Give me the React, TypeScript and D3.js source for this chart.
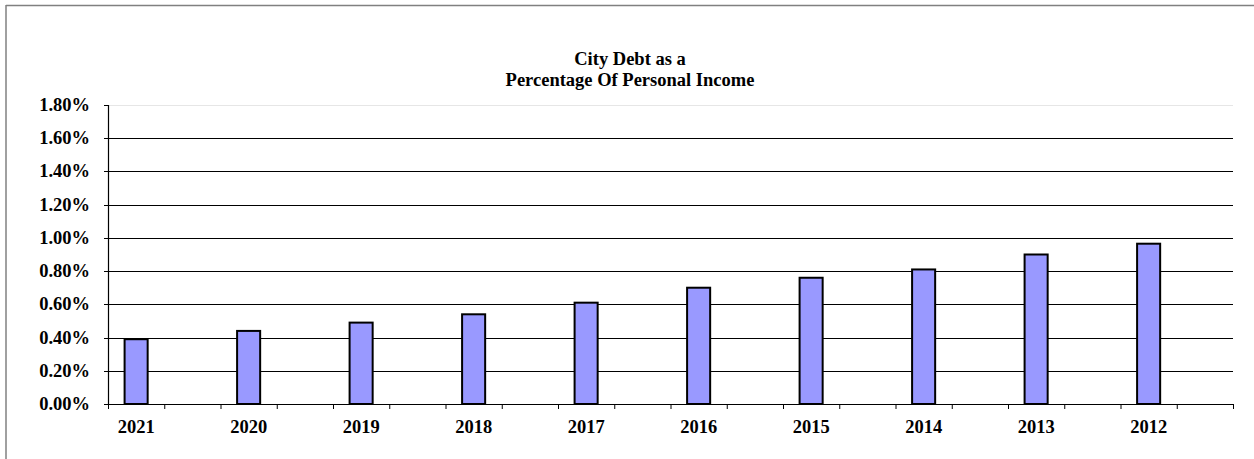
import React from "react";
import * as d3 from "d3";

const years = ["2021", "2020", "2019", "2018", "2017", "2016", "2015", "2014", "2013", "2012"];
const debtPct = [0.39, 0.44, 0.49, 0.54, 0.61, 0.70, 0.76, 0.81, 0.90, 0.965];
const yTicks = [0, 0.2, 0.4, 0.6, 0.8, 1.0, 1.2, 1.4, 1.6, 1.8];
const titleLines = ["City Debt as a", "Percentage Of Personal Income"];

const W = 1254;
const H = 459;
const plot = { left: 108, right: 1233, top: 105, bottom: 404 };
const font = "'Liberation Serif', 'Times New Roman', serif";

export default function App() {
  // each year occupies a slot followed by an empty slot
  const slots = years.flatMap((y) => [y, y + "_gap"]);
  const x = d3.scaleBand<string>().domain(slots).range([plot.left, plot.right]).paddingInner(0).paddingOuter(0);
  const y = d3.scaleLinear().domain([0, 1.8]).range([plot.bottom, plot.top]);
  const bw = x.bandwidth();
  const barW = bw * 0.41;

  const tickXs = slots.map((s) => x(s) as number).concat([plot.right]);

  return (
    <div style={{ position: "absolute", left: 0, top: 0 }}>
      <svg width={W} height={H} style={{ display: "block", background: "#fff" }}>
        {/* outer frame */}
        <line x1={6} y1={5.5} x2={W} y2={5.5} stroke="#808080" strokeWidth={1.5} />
        <line x1={6} y1={5} x2={6} y2={H} stroke="#808080" strokeWidth={1.5} />

        {/* title */}
        {titleLines.map((t, i) => (
          <text key={i} x={630} y={65 + i * 21} textAnchor="middle" fontFamily={font} fontWeight="bold" fontSize={18.5} fill="#000">
            {t}
          </text>
        ))}

        {/* gridlines */}
        {yTicks.map((v) => (
          <line key={"g" + v} x1={plot.left} x2={plot.right} y1={Math.round(y(v)) + 0.5} y2={Math.round(y(v)) + 0.5}
            stroke={v === 1.8 ? "#e6e6e6" : "#000"} strokeWidth={1} />
        ))}

        {/* y axis */}
        <line x1={plot.left + 0.5} x2={plot.left + 0.5} y1={plot.top} y2={plot.bottom + 0.5} stroke="#000" strokeWidth={1.2} />
        {yTicks.map((v) => (
          <g key={"t" + v}>
            <line x1={plot.left - 4} x2={plot.left} y1={Math.round(y(v)) + 0.5} y2={Math.round(y(v)) + 0.5} stroke="#000" />
            <text x={90} y={y(v) + 6} textAnchor="end" fontFamily={font} fontWeight="bold" fontSize={18.5} fill="#000">
              {v.toFixed(2) + "%"}
            </text>
          </g>
        ))}

        {/* bars */}
        {years.map((yr, i) => {
          const cx = (x(yr) as number) + bw / 2;
          return (
            <rect key={yr} x={cx - barW / 2} y={y(debtPct[i])} width={barW} height={plot.bottom - y(debtPct[i])}
              fill="#9999ff" stroke="#000" strokeWidth={2} />
          );
        })}

        {/* x axis */}
        <line x1={plot.left} x2={plot.right} y1={plot.bottom + 0.5} y2={plot.bottom + 0.5} stroke="#000" strokeWidth={1.2} />
        {tickXs.map((tx, i) => (
          <line key={"xt" + i} x1={tx + 0.5} x2={tx + 0.5} y1={plot.bottom} y2={plot.bottom + 5} stroke="#000" />
        ))}
        {years.map((yr) => (
          <text key={"l" + yr} x={(x(yr) as number) + bw / 2} y={433} textAnchor="middle" fontFamily={font} fontWeight="bold" fontSize={18.5} fill="#000">
            {yr}
          </text>
        ))}
      </svg>
    </div>
  );
}
